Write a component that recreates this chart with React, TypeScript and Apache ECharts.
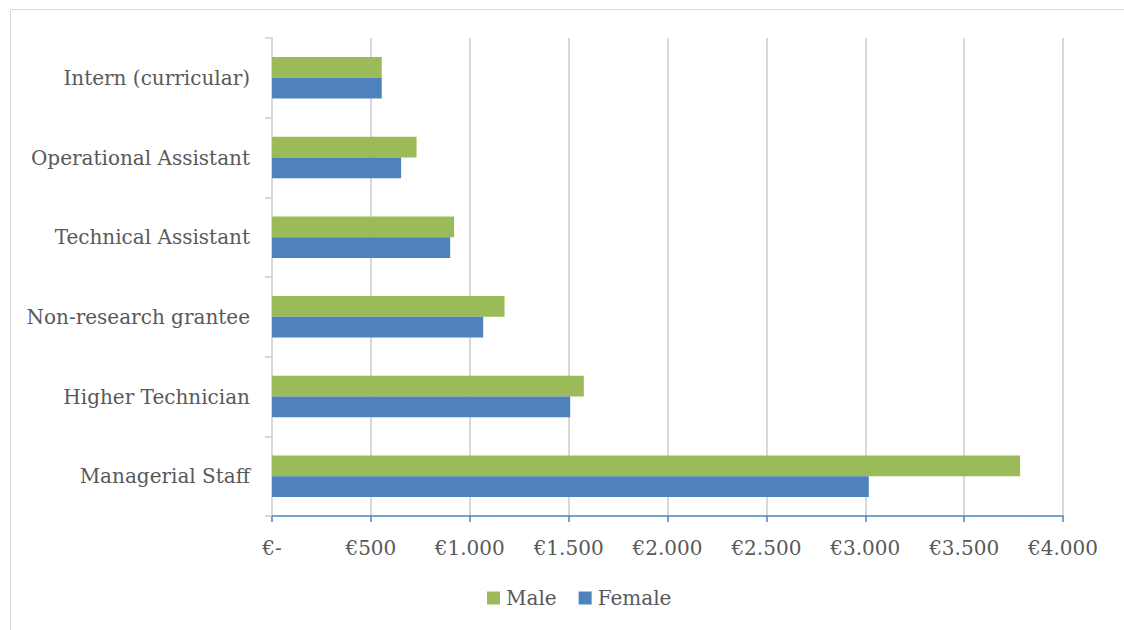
import React, { useEffect, useRef } from "react";
import * as echarts from "echarts";

// Job categories, bottom to top
const categories = [
  "Managerial Staff",
  "Higher Technician",
  "Non-research grantee",
  "Technical Assistant",
  "Operational Assistant",
  "Intern (curricular)",
];

// Average monthly pay in euro
const femaleValues = [3018, 1508, 1068, 901, 653, 555];
const maleValues = [3783, 1577, 1176, 921, 731, 555];

const xTicks = { min: 0, max: 4000, interval: 500 };

const FONT = "'DejaVu Serif', 'Liberation Serif', serif";
const TEXT = "#595959";

function euro(v: number): string {
  if (v === 0) return "€-";
  return "€" + String(v).replace(/\B(?=(\d{3})+(?!\d))/g, ".");
}

export default function App() {
  const ref = useRef<HTMLDivElement>(null);

  useEffect(() => {
    document.body.style.margin = "0";
    const chart = echarts.init(ref.current!, null, { renderer: "svg" });
    chart.setOption({
      animation: false,
      backgroundColor: "#ffffff",
      graphic: [
        {
          type: "rect",
          shape: { x: 10.5, y: 9.5, width: 1130, height: 640 },
          style: { fill: "none", stroke: "#d9d9d9", lineWidth: 1 },
          silent: true,
        },
      ],
      grid: { left: 272, right: 61, top: 38, bottom: 114, containLabel: false },
      legend: {
        data: ["Male", "Female"],
        bottom: 17,
        left: 482,
        itemWidth: 13,
        itemHeight: 13,
        itemGap: 22,
        icon: "rect",
        textStyle: { fontFamily: FONT, fontSize: 20, color: TEXT, padding: [0, 0, 0, 1] },
      },
      xAxis: {
        type: "value",
        min: xTicks.min,
        max: xTicks.max,
        interval: xTicks.interval,
        axisLine: { show: true, lineStyle: { color: "#4f81bd", width: 1.5 } },
        axisTick: { show: true, length: 6, lineStyle: { color: "#4f81bd", width: 1.5 } },
        splitLine: { show: true, lineStyle: { color: "#d9d9d9", width: 2 } },
        axisLabel: {
          margin: 22,
          fontFamily: FONT,
          fontSize: 20,
          color: TEXT,
          formatter: (v: number) => euro(v),
        },
      },
      yAxis: {
        type: "category",
        data: categories,
        axisLine: { show: true, lineStyle: { color: "#d9d9d9", width: 2 } },
        axisTick: { show: true, length: 7, lineStyle: { color: "#d9d9d9", width: 2 } },
        axisLabel: { margin: 22, fontFamily: FONT, fontSize: 20, color: TEXT },
      },
      series: [
        {
          name: "Male",
          type: "bar",
          data: maleValues,
          itemStyle: { color: "#9bbb59" },
          barGap: "0%",
          barCategoryGap: "48%",
        },
        {
          name: "Female",
          type: "bar",
          data: femaleValues,
          itemStyle: { color: "#4f81bd" },
          barGap: "0%",
          barCategoryGap: "48%",
        },
      ],
    });
    return () => chart.dispose();
  }, []);

  return <div ref={ref} style={{ width: 1124, height: 630 }} />;
}
